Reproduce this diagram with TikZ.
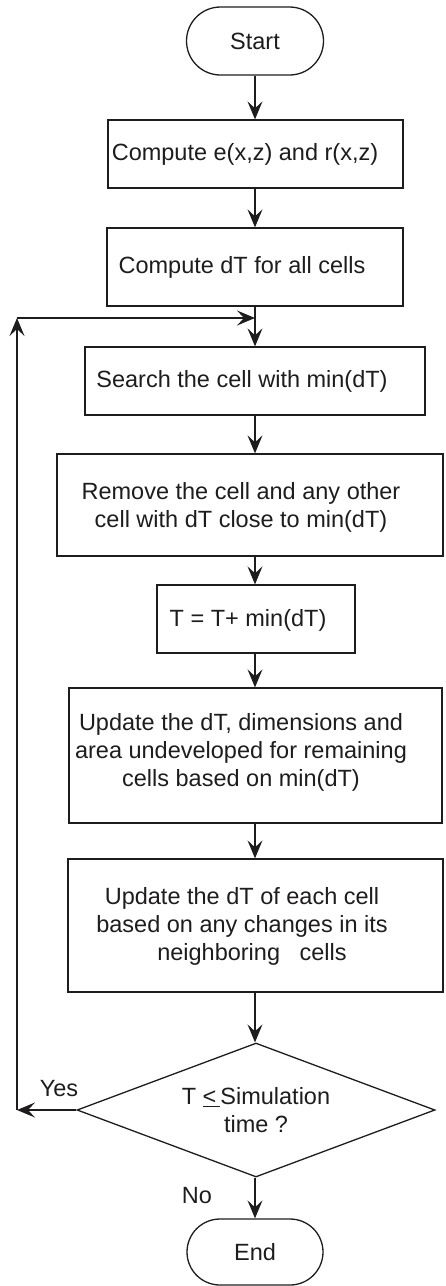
\documentclass[tikz,border=0pt]{standalone}
\usepackage{fontspec}
\setmainfont{Liberation Sans}
\usetikzlibrary{arrows.meta,shapes.geometric,shapes.misc}
\definecolor{ink}{RGB}{30,28,28}
\newcommand{\flowfont}{\fontsize{23.5}{28}\selectfont}
\tikzset{
  >={Stealth[length=18pt,width=15pt,inset=7pt]},
  box/.style={draw=ink,line width=1.3pt,inner sep=0pt},
  term/.style={rounded rectangle,draw=ink,line width=1.3pt,minimum width=137pt,
    minimum height=68pt,inner sep=0pt,font=\flowfont,text=ink},
  test/.style={diamond,aspect=2.67,draw=ink,line width=1.3pt,minimum width=358pt,
    minimum height=134pt,inner sep=0pt,font=\flowfont,text=ink,align=center},
  txt/.style={font=\flowfont,text=ink,align=center,inner sep=0pt},
  flow/.style={->,draw=ink,line width=1.3pt},
}

\begin{document}
\begin{tikzpicture}[x=1pt,y=-1pt]
  \useasboundingbox (0,0) rectangle (445,1286);
  % terminals and steps
  \node[term] (start) at (255,41) {Start};
  \node[box,minimum width=295pt,minimum height=68pt] (b1) at (255.5,154) {};
  \node[txt] (t1) at (245,154) {Compute e(x,z) and r(x,z)};
  \node[box,minimum width=296pt,minimum height=78pt] (b2) at (255,267) {};
  \node[txt] (t2) at (242,267) {Compute dT for all cells};
  \node[box,minimum width=340pt,minimum height=68pt] (b3) at (255,381) {};
  \node[txt] (t3) at (242,381) {Search the cell with min(dT)};
  \node[box,minimum width=386pt,minimum height=102pt] (b4) at (250,505) {};
  \node[txt] (t4) at (241,507) {Remove the cell and any other\\cell with dT close to min(dT)};
  \node[box,minimum width=198pt,minimum height=68pt] (b5) at (256,619) {};
  \node[txt] (t5) at (248,620) {T = T+ min(dT)};
  \node[box,minimum width=373pt,minimum height=135pt] (b6) at (255.5,755.5) {};
  \node[txt] (t6) at (241,752) {Update the dT, dimensions and\\area undeveloped for remaining\\cells based on min(dT)};
  \node[box,minimum width=375pt,minimum height=133pt] (b7) at (255.5,925.5) {};
  \node[txt] (t7) at (242,926) {Update the dT of each cell\\based on any changes in its\\\hspace*{20pt}neighboring~~~cells};
  \node[test] (dec) at (256,1110) {T \underline{<\,}Simulation\\time ?};
  \node[term,minimum width=136pt,minimum height=66pt] (end) at (255,1252) {End};
  \node[txt] (lyes) at (59,1089) {Yes};
  \node[txt] (lno) at (197,1196) {No};
  % loop back
  \coordinate (yes) at (17,1110);
  \coordinate (back) at (17,318);
  \coordinate (join) at (255,318);
  % connectors
  \draw[flow] (start.south) -- (start.south |- b1.north);
  \draw[flow] (start.south |- b1.south) -- (start.south |- b2.north);
  \draw[flow] (b2.south) -- (b3.north);
  \draw[flow] (b3.south) -- (b3.south |- b4.north);
  \draw[flow] (b3.south |- b4.south) -- (b3.south |- b5.north);
  \draw[flow] (b3.south |- b5.south) -- (b3.south |- b6.north);
  \draw[flow] (b3.south |- b6.south) -- (b3.south |- b7.north);
  \draw[flow] (b3.south |- b7.south) -- (b3.south |- dec.north);
  \draw[flow] (b3.south |- dec.south) -- (b3.south |- end.north);
  \draw[flow] (dec.west) -- (yes);
  \draw[flow] (yes) -- (back);
  \draw[flow] (back) -- (join);
\end{tikzpicture}
\end{document}
